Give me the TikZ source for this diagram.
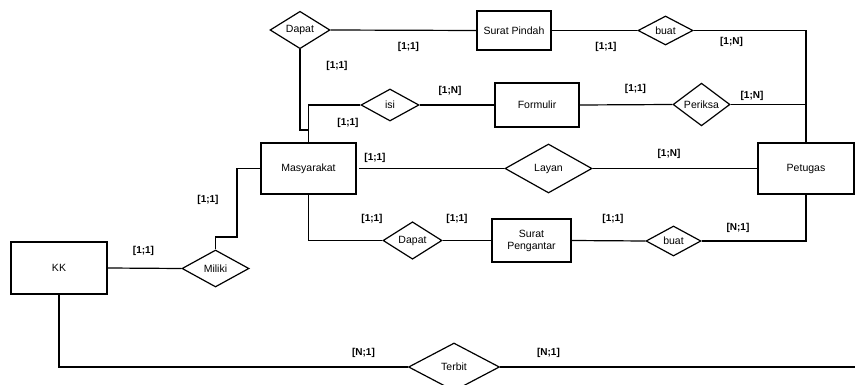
\documentclass[tikz,border=0pt]{standalone}
\usepackage{fontspec}
\setmainfont{Liberation Sans}
\usetikzlibrary{shapes.geometric}
\tikzset{
  ent/.style={draw, line width=1.2pt, rectangle, inner sep=0pt, align=center,
    font=\fontsize{10.5}{12}\selectfont},
  rel/.style={draw, line width=1.2pt, diamond, inner sep=0pt,
    font=\fontsize{10.5}{12}\selectfont},
  card/.style={font=\fontsize{10}{12}\selectfont\bfseries, inner sep=0pt},
  conn/.style={line width=1.2pt}
}
\begin{document}
\begin{tikzpicture}[x=1pt,y=-1pt]
\path[use as bounding box] (0,0) rectangle (855,385);
\clip (0,0) rectangle (855,385);
\fill[white] (0,0) rectangle (855,385);
% entities
\node[ent, minimum width=74pt, minimum height=39pt] (sp) at (514,30.5) {Surat Pindah};
\node[ent, minimum width=84pt, minimum height=44pt] (form) at (537,105) {Formulir};
\node[ent, minimum width=95pt, minimum height=51pt] (masy) at (308.5,168.5) {Masyarakat};
\node[ent, minimum width=96pt, minimum height=51pt] (pet) at (806,168.5) {Petugas};
\node[ent, minimum width=79pt, minimum height=43pt] (spg) at (531.5,240.5) {Surat\\Pengantar};
\node[ent, minimum width=96pt, minimum height=52pt] (kk) at (59,268) {KK};
% relationships
\node[rel, minimum width=60pt, minimum height=32pt] (dapat1) at (300,30) {Dapat};
\node[rel, minimum width=55pt, minimum height=29pt] (buat1) at (665.5,30.5) {buat};
\node[rel, minimum width=58pt, minimum height=32pt] (isi) at (390,105) {isi};
\node[rel, minimum width=57pt, minimum height=29pt] (periksa) at (701.5,104.5) {Periksa};
\node[rel, minimum width=87pt, minimum height=49pt] (layan) at (548.5,168.5) {Layan};
\node[rel, minimum width=59pt, minimum height=33pt] (dapat2) at (412.5,240.5) {Dapat};
\node[rel, minimum width=55pt, minimum height=30pt] (buat2) at (673.5,241) {buat};
\node[rel, minimum width=67pt, minimum height=37pt] (miliki) at (215.5,268.5) {Miliki};
\node[rel, minimum width=91pt, minimum height=48pt] (terbit) at (454,367) {Terbit};
% helper coordinates
\coordinate (j1) at (308.5,130);
\coordinate (m1) at (237,237);
\coordinate (ls) at (359,168.5);
\coordinate (edge1) at (855,168.5);
\coordinate (edge2) at (855,367);
% connectors
\draw[conn] (dapat1.east) -- (sp.west);
\draw[conn] (sp.east) -- (buat1.west);
\draw[conn] (buat1.east) -| (pet.north);
\draw[conn] (dapat1.south) |- (j1);
\draw[conn] (isi.west) -| (masy.north);
\draw[conn] (isi.east) -- (form.west);
\draw[conn] (form.east) -- (periksa.west);
\draw[conn] (periksa.east) -- (periksa.east -| pet.north);
\draw[conn] (ls) -- (layan.west);
\draw[conn] (layan.east) -- (pet.west);
\draw[conn] (pet.east) -- (edge1);
\draw[conn] (masy.west) -| (m1) -| (miliki.north);
\draw[conn] (kk.east) -- (miliki.west);
\draw[conn] (kk.south) |- (terbit.west);
\draw[conn] (terbit.east) -- (edge2);
\draw[conn] (masy.south) |- (dapat2.west);
\draw[conn] (dapat2.east) -- (spg.west);
\draw[conn] (spg.east) -- (buat2.west);
\draw[conn] (buat2.east) -| (pet.south);
% cardinalities
\node[card] (c1) at (408.5,47) {[1;1]};
\node[card] (c2) at (337,66) {[1;1]};
\node[card] (c3) at (606,47) {[1;1]};
\node[card] (c4) at (731.5,42) {[1;N]};
\node[card] (c5) at (450,91) {[1;N]};
\node[card] (c6) at (635.5,89) {[1;1]};
\node[card] (c7) at (752,96) {[1;N]};
\node[card] (c8) at (348,123) {[1;1]};
\node[card] (c9) at (375,158) {[1;1]};
\node[card] (c10) at (669,154) {[1;N]};
\node[card] (c11) at (208,200) {[1;1]};
\node[card] (c12) at (143.5,251) {[1;1]};
\node[card] (c13) at (372,219) {[1;1]};
\node[card] (c14) at (457,219) {[1;1]};
\node[card] (c15) at (613,219) {[1;1]};
\node[card] (c16) at (738,228) {[N;1]};
\node[card] (c17) at (363.5,353) {[N;1]};
\node[card] (c18) at (548.5,353) {[N;1]};
\end{tikzpicture}
\end{document}
